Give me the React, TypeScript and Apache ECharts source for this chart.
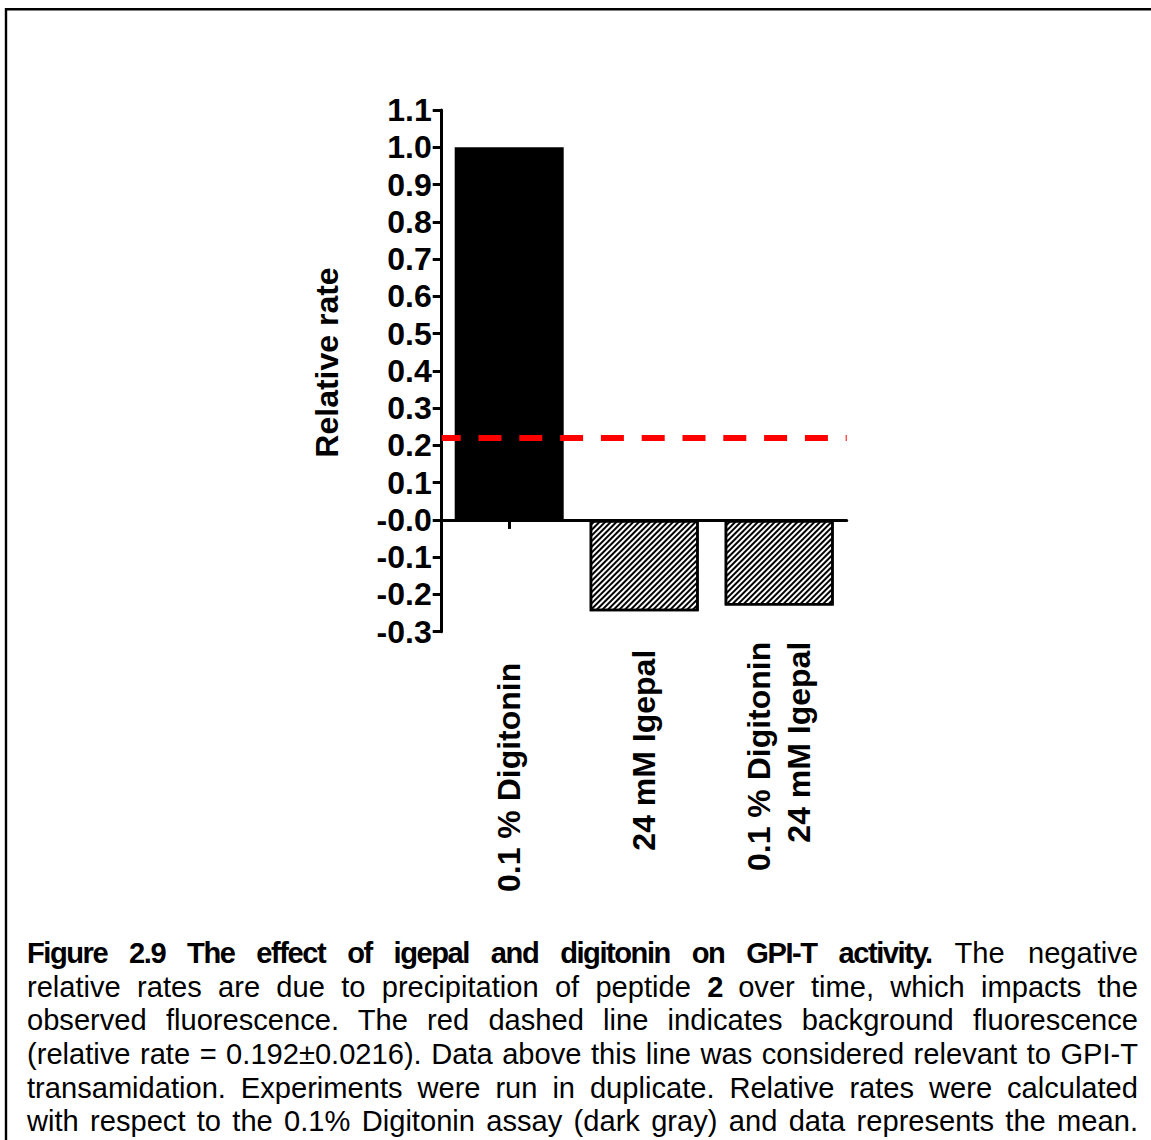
import React, { useEffect, useRef } from "react";
import * as echarts from "echarts";

// ---- Data ----
const categories = ["0.1 % Digitonin", "24 mM Igepal", "0.1 % Digitonin\n24 mM Igepal"];
const relativeRates = [1.0, -0.245, -0.23];
const backgroundLevel = 0.22;
const yMin = -0.3;
const yMax = 1.1;
const yStep = 0.1;
const yAxisTitle = "Relative rate";
// extra space between axis and each rotated category label
const labelPads = [21, 8, 0];

const captionLines: { text: string; bold?: boolean }[][] = [
  [
    { text: "Figure 2.9 The effect of igepal and digitonin on GPI-T activity.", bold: true },
    { text: " The negative" },
  ],
  [
    { text: "relative rates are due to precipitation of peptide " },
    { text: "2", bold: true },
    { text: " over time, which impacts the" },
  ],
  [{ text: "observed fluorescence. The red dashed line indicates background fluorescence" }],
  [{ text: "(relative rate = 0.192\u00b10.0216). Data above this line was considered relevant to GPI-T" }],
  [{ text: "transamidation. Experiments were run in duplicate. Relative rates were calculated" }],
  [{ text: "with respect to the 0.1% Digitonin assay (dark gray) and data represents the mean." }],
];

const FONT = '"Liberation Sans", Arial, Helvetica, sans-serif';
const CAPTION_SCALE = 0.97;

export default function App() {
  const ref = useRef<HTMLDivElement>(null);

  useEffect(() => {
    if (!ref.current) return;
    const chart = echarts.init(ref.current, null, { renderer: "svg" });

    const hatch = {
      symbol: "rect",
      symbolSize: 1,
      dashArrayX: [1, 0],
      dashArrayY: [2, 2],
      rotation: -Math.PI / 4,
      color: "#000",
      backgroundColor: "#fff",
    };

    const rich: Record<string, any> = {};
    labelPads.forEach((p, i) => {
      rich["l" + i] = {
        fontFamily: FONT,
        fontWeight: "bold",
        fontSize: 32,
        color: "#000",
        lineHeight: 40,
        padding: [0, p, 0, 0],
      };
    });

    const option: any = {
      animation: false,
      backgroundColor: "#fff",
      grid: { left: 441.7, top: 110, width: 405, height: 521.7, containLabel: false },
      xAxis: [
        {
          type: "category",
          data: categories,
          position: "bottom",
          boundaryGap: true,
          axisLine: { show: true, onZero: true, lineStyle: { color: "#000", width: 3 } },
          axisTick: { show: true, alignWithLabel: true, length: 9, lineStyle: { color: "#000", width: 3 } },
          axisLabel: { show: false },
          splitLine: { show: false },
        },
        {
          type: "category",
          data: categories,
          position: "bottom",
          boundaryGap: true,
          axisLine: { show: false, onZero: false },
          axisTick: { show: false },
          splitLine: { show: false },
          axisLabel: {
            show: true,
            interval: 0,
            rotate: 90,
            margin: 10,
            fontFamily: FONT,
            fontWeight: "bold",
            fontSize: 32,
            lineHeight: 40,
            color: "#000",
            formatter: (v: string) => {
              const i = categories.indexOf(v);
              return v
                .split("\n")
                .map((line) => `{l${i}|${line}}`)
                .join("\n");
            },
            rich,
          },
        },
      ],
      yAxis: {
        type: "value",
        min: yMin,
        max: yMax,
        interval: yStep,
        axisLine: { show: true, lineStyle: { color: "#000", width: 3 } },
        axisTick: { show: true, length: 9, lineStyle: { color: "#000", width: 3 } },
        splitLine: { show: false },
        axisLabel: {
          margin: 10,
          fontFamily: FONT,
          fontWeight: "bold",
          fontSize: 32,
          color: "#000",
          formatter: (v: number) => (Math.abs(v) < 1e-9 ? "-0.0" : v.toFixed(1)),
        },
      },
      series: [
        {
          type: "bar",
          xAxisIndex: 0,
          yAxisIndex: 0,
          barWidth: 109,
          data: relativeRates.map((v, i) => ({
            value: v,
            itemStyle:
              i === 0
                ? { color: "#000", borderColor: "#000", borderWidth: 0 }
                : { color: "#fff", borderColor: "#000", borderWidth: 2.5, decal: hatch },
          })),
          markLine: {
            silent: true,
            symbol: "none",
            label: { show: false },
            lineStyle: { color: "#ff0000", width: 6, type: [23, 17.8], dashOffset: 3.7 },
            data: [{ yAxis: backgroundLevel }],
          },
        },
      ],
      graphic: [
        {
          type: "line",
          shape: { x1: 6, y1: 9.3, x2: 1151, y2: 9.3 },
          style: { stroke: "#000", lineWidth: 2.4 },
          silent: true,
        },
        {
          type: "line",
          shape: { x1: 6, y1: 8, x2: 6, y2: 1140 },
          style: { stroke: "#000", lineWidth: 2.4 },
          silent: true,
        },
        {
          type: "text",
          x: 327,
          y: 362.5,
          rotation: Math.PI / 2,
          style: {
            text: yAxisTitle,
            font: `bold 32px ${FONT}`,
            fill: "#000",
            align: "center",
            verticalAlign: "middle",
          },
          silent: true,
        },
      ],
    };

    chart.setOption(option);
    return () => chart.dispose();
  }, []);

  return (
    <div
      style={{
        position: "absolute",
        left: 0,
        top: 0,
        width: 1151,
        height: 1140,
        overflow: "hidden",
        background: "#fff",
      }}
    >
      <div ref={ref} style={{ position: "absolute", left: 0, top: 0, width: 1151, height: 1140 }} />
      <div
        style={{
          position: "absolute",
          left: 27,
          top: 936.2,
          fontFamily: FONT,
          fontSize: 30,
          color: "#000",
        }}
      >
        {captionLines.map((segs, li) => (
          <div
            key={li}
            style={{
              width: 1111 / CAPTION_SCALE,
              height: 33.6,
              lineHeight: "33.6px",
              textAlign: "justify",
              textAlignLast: "justify",
              transform: `scaleX(${CAPTION_SCALE})`,
              transformOrigin: "0 0",
            }}
          >
            {segs.map((s, si) => (
              <span
                key={si}
                style={{
                  fontWeight: s.bold ? "bold" : "normal",
                  letterSpacing: s.bold ? "-1.5px" : "normal",
                }}
              >
                {s.text}
              </span>
            ))}
          </div>
        ))}
      </div>
    </div>
  );
}
